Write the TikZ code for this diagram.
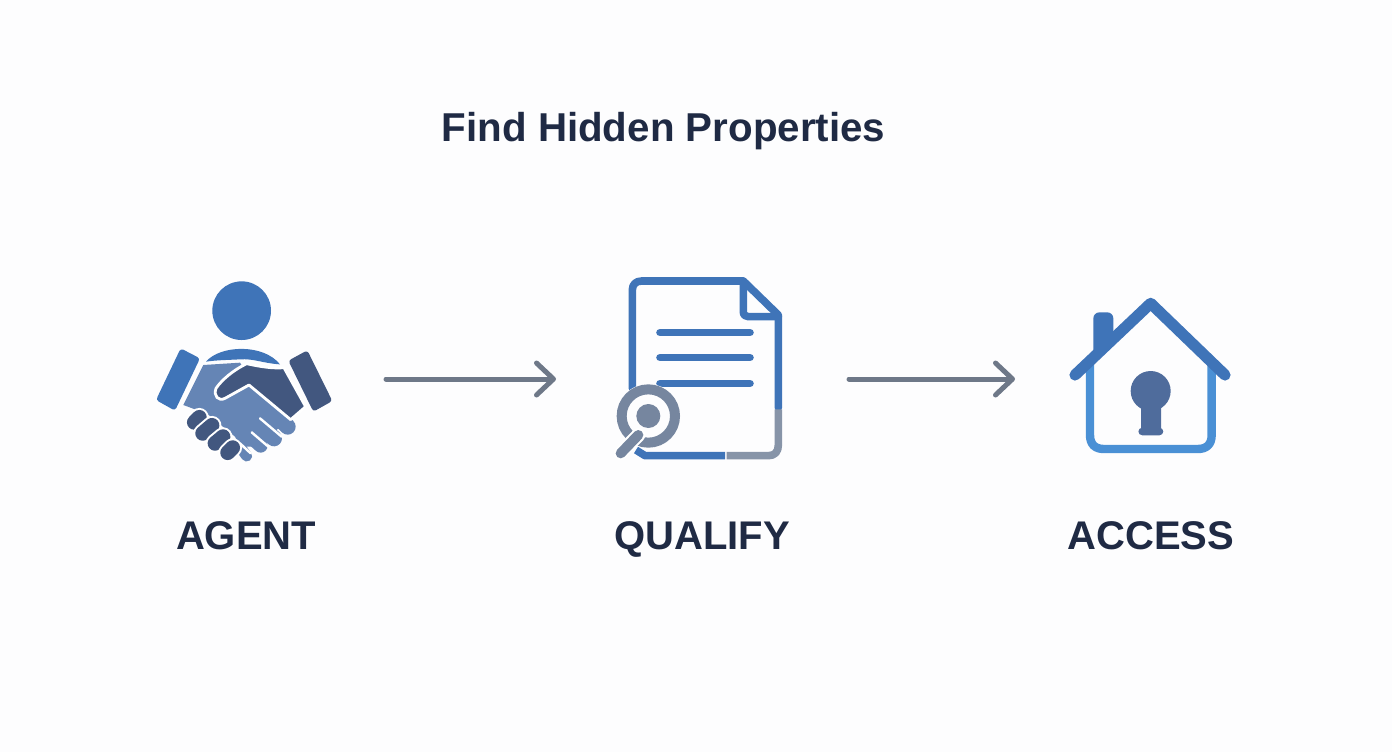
\documentclass[tikz,border=0pt]{standalone}
\usepackage{fontspec}
\setmainfont{Liberation Sans}
\usetikzlibrary{arrows.meta}
\definecolor{bgc}{HTML}{FDFDFE}
\definecolor{ink}{HTML}{1F2A44}
\definecolor{blueA}{HTML}{3F74B8}
\definecolor{blueB}{HTML}{4A90D5}
\definecolor{handL}{HTML}{6585B5}
\definecolor{handD}{HTML}{42577F}
\definecolor{greyA}{HTML}{76869F}
\definecolor{greyB}{HTML}{8794A8}
\definecolor{keyc}{HTML}{4F6C9C}
\definecolor{arrowc}{HTML}{6E7888}
\tikzset{
  titletext/.style={text=ink,font=\bfseries\fontsize{20.15}{24}\selectfont,inner sep=0pt,anchor=base},
  labeltext/.style={text=ink,font=\bfseries\fontsize{20}{24}\selectfont,inner sep=0pt,anchor=base},
  flowarrow/.style={draw=arrowc,line width=2.5pt,line cap=round,-{Straight Barb[round,length=8.5pt,width=16pt,line width=2.5pt]}},
  zoomA/.style={shift={(140,270)},scale=1/3},
  zoomB/.style={shift={(600,265)},scale=1/3},
  zoomC/.style={shift={(1060,285)},scale=1/3},
  docline/.style={draw=blueA,line width=3.8pt,line cap=round,line join=round},
  hse/.style={line cap=round,line join=round},
  gap/.style={draw=white,line width=1.2pt,line cap=round},
  lightfinger/.style={draw=handL,line cap=round},
}
\begin{document}
\begin{tikzpicture}[x=0.5pt,y=-0.5pt]
\useasboundingbox (0,0) rectangle (1392,752);
\fill[bgc] (0,0) rectangle (1392,752);
\node[titletext] (title) at (663.5,141) {Find Hidden Properties};
% agent icon
\begin{scope}[zoomA]
\fill[blueA] (305,122) circle (88);
\fill[blueA] (198,275) .. controls (240,225) and (370,220) .. (420,283) .. controls (370,280) and (340,265) .. (300,268) .. controls (265,270) and (230,270) .. (198,275) -- cycle;
\fill[blueA,rounded corners=1.5pt] (122,235) -- (180,265) -- (105,422) -- (48,390) -- cycle;
\fill[handD,rounded corners=1.5pt] (445,272) -- (502,241) -- (577,393) -- (520,425) -- cycle;
% light hand
\fill[handL] (190,285) -- (300,278) -- (340,340) -- (445,445) -- (400,490) -- (340,530) -- (300,530) -- (285,500) -- (200,430) -- (165,418) -- (130,405) -- cycle;
\draw[lightfinger,line width=8pt] (380,410) -- (443,470);
\draw[lightfinger,line width=8pt] (340,450) -- (402,505);
\draw[lightfinger,line width=7pt] (310,480) -- (362,527);
\draw[lightfinger,line width=5.5pt] (300,530) -- (320,558);
% dark hand
\draw[draw=white,fill=handD,line width=1.4pt,line join=round] (320,281) .. controls (360,290) and (400,296) .. (432,293) -- (497,410) -- (452,449) -- (327,345) -- (255,385) .. controls (235,395) and (220,378) .. (228,355) .. controls (245,330) and (280,300) .. (320,281) -- cycle;
\draw[gap] (360,445) -- (425,500);
\draw[gap] (335,487) -- (385,530);
\draw[gap] (300,520) -- (332,550);
% finger capsules
\foreach \a/\b/\c/\d in {163/457/178/442, 188/490/216/466, 225/520/249/500, 263/548/278/533}
  {\draw[white,line cap=round,line width=9.4pt] (\a,\b) -- (\c,\d);
   \draw[handD,line cap=round,line width=7.4pt] (\a,\b) -- (\c,\d);}
\end{scope}
% document icon
\begin{scope}[zoomB]
\draw[docline] (97,370) -- (97,75) .. controls (97,58) and (108,48) .. (125,48) -- (430,48) -- (535,150) -- (535,428);
\draw[docline] (430,48) -- (430,140) .. controls (430,150) and (436,155) .. (445,155) -- (535,155);
\draw[draw=greyB,line width=3.8pt,line join=round] (535,433) -- (535,540) .. controls (535,560) and (525,572) .. (505,572) -- (380,572);
\draw[draw=blueA,line width=3.8pt,line join=round] (375,572) -- (135,572) -- (108,555);
\draw[docline] (180,203) -- (450,203);
\draw[docline] (180,278) -- (450,278);
\draw[docline] (180,355) -- (450,355);
\fill[bgc] (145,453) circle (96);
\draw[greyA,line width=5pt] (145,453) circle (80);
\fill[greyA] (145,453) circle (36);
\draw[white,line width=7pt,line cap=round] (115,510) -- (62,565);
\draw[greyA,line width=5pt,line cap=round] (115,510) -- (62,565);
\end{scope}
% house icon
\begin{scope}[zoomC]
\draw[blueB,line width=4.2pt,hse] (90,240) -- (90,450) .. controls (90,478) and (105,492) .. (132,492) -- (413,492) .. controls (440,492) and (455,478) .. (455,450) -- (455,240);
\fill[blueA,rounded corners=3pt] (100,225) -- (100,82) -- (160,82) -- (160,170) -- cycle;
\draw[blueA,line width=5.6pt,hse] (45,270) -- (272,55) -- (495,270);
\fill[keyc] (272,318) circle (60);
\fill[keyc,rounded corners=1.5pt] (243,340) rectangle (303,440);
\fill[keyc,rounded corners=2pt] (235,428) rectangle (310,451);
\end{scope}
\node[labeltext] (agent) at (246,549) {AGENT};
\node[labeltext] (qualify) at (702,549) {QUALIFY};
\node[labeltext] (access) at (1151,549) {ACCESS};
\coordinate (a1s) at (386,379);
\coordinate (a1e) at (556,379);
\coordinate (a2s) at (849,379);
\coordinate (a2e) at (1015,379);
\draw[flowarrow] (a1s) -- (a1e);
\draw[flowarrow] (a2s) -- (a2e);
\end{tikzpicture}
\end{document}
